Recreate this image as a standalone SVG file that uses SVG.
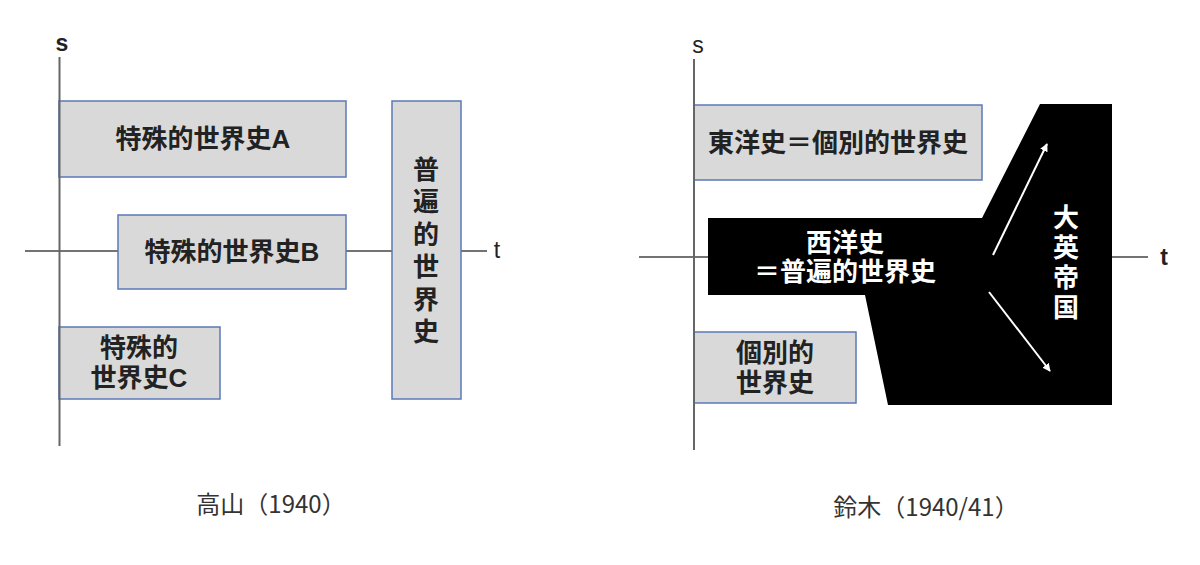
<svg xmlns="http://www.w3.org/2000/svg" width="1200" height="565" viewBox="0 0 1200 565">
<style>
.box{fill:#d9d9d9;stroke:#5b79b8;stroke-width:1.5}
.axis{stroke:#444;stroke-width:1.5;fill:none}
.vaxis{stroke:#666;stroke-width:2;fill:none}
.lbl{font-family:"Liberation Sans","Noto Sans CJK JP",sans-serif;font-weight:bold;font-size:26px;fill:#222;text-anchor:middle;dominant-baseline:central}
.wlbl{font-family:"Liberation Sans","Noto Sans CJK JP",sans-serif;font-weight:bold;font-size:26px;fill:#fff;text-anchor:middle;dominant-baseline:central}
.cap{font-family:"Noto Sans CJK JP",sans-serif;font-size:24px;fill:#333;text-anchor:middle;dominant-baseline:central}
.ax{font-family:"Liberation Sans",sans-serif;font-size:23px;fill:#222;text-anchor:middle;dominant-baseline:central}
.arr{stroke:#fff;stroke-width:2;fill:none;marker-end:url(#ah)}
</style>
<defs>
<marker id="ah" viewBox="0 0 10 10" refX="9" refY="5" markerWidth="4" markerHeight="4" orient="auto" markerUnits="strokeWidth">
<path d="M0,0 L10,5 L0,10 Z" fill="#fff"/>
</marker>
</defs>
<rect width="1200" height="565" fill="#fff"/>

<!-- Left panel -->
<g id="connectors-left">
<line class="axis" x1="25" y1="251" x2="487" y2="251"/>
</g>
<g id="node-A">
<rect class="box" x="59" y="101" width="287" height="76"/>
<text class="lbl" x="203" y="139">特殊的世界史A</text>
</g>
<g id="node-B">
<rect class="box" x="118" y="215" width="228" height="74"/>
<text class="lbl" x="232" y="252">特殊的世界史B</text>
</g>
<g id="node-C">
<rect class="box" x="59" y="327" width="161" height="72"/>
<text class="lbl" x="139" y="348">特殊的</text>
<text class="lbl" x="139" y="378">世界史C</text>
</g>
<g id="node-universal">
<rect class="box" x="392" y="101" width="69" height="298"/>
<text class="lbl" x="426" y="170">普</text>
<text class="lbl" x="426" y="202">遍</text>
<text class="lbl" x="426" y="235">的</text>
<text class="lbl" x="426" y="267">世</text>
<text class="lbl" x="426" y="300">界</text>
<text class="lbl" x="426" y="332">史</text>
</g>
<g id="axes-left">
<line class="vaxis" x1="59.5" y1="57" x2="59.5" y2="446"/>
<text class="ax" x="62" y="43" font-weight="bold" font-size="25">s</text>
<text class="ax" x="497" y="250">t</text>
</g>
<g id="caption-left">
<text class="cap" x="271" y="502">高山（1940）</text>
</g>

<!-- Right panel -->
<g id="connectors-right">
<line class="axis" x1="639" y1="257" x2="1148" y2="257"/>
</g>
<g id="node-east">
<rect class="box" x="694" y="105" width="288" height="75"/>
<text class="lbl" x="838" y="143">東洋史＝個別的世界史</text>
</g>
<g id="node-indiv">
<rect class="box" x="694" y="332" width="162" height="71"/>
<text class="lbl" x="775" y="353">個別的</text>
<text class="lbl" x="775" y="383">世界史</text>
</g>
<g id="node-west">
<path d="M708,218 L982,218 L1040,104 L1112,104 L1112,405 L888,405 L865,295 L708,295 Z" fill="#000"/>
<text class="wlbl" x="845" y="243">西洋史</text>
<text class="wlbl" x="845" y="272">＝普遍的世界史</text>
<text class="wlbl" x="1066" y="218">大</text>
<text class="wlbl" x="1066" y="248">英</text>
<text class="wlbl" x="1066" y="278">帝</text>
<text class="wlbl" x="1066" y="308">国</text>
</g>
<g id="connectors">
<line class="arr" x1="993" y1="255" x2="1047" y2="144"/>
<line class="arr" x1="989" y1="292" x2="1050" y2="371"/>
</g>
<g id="axes-right">
<line class="vaxis" x1="694" y1="59" x2="694" y2="450"/>
<text class="ax" x="698" y="45">s</text>
<text class="ax" x="1164" y="257" font-weight="bold" font-size="25">t</text>
</g>
<g id="caption-right">
<text class="cap" x="926" y="505">鈴木（1940/41）</text>
</g>
</svg>
